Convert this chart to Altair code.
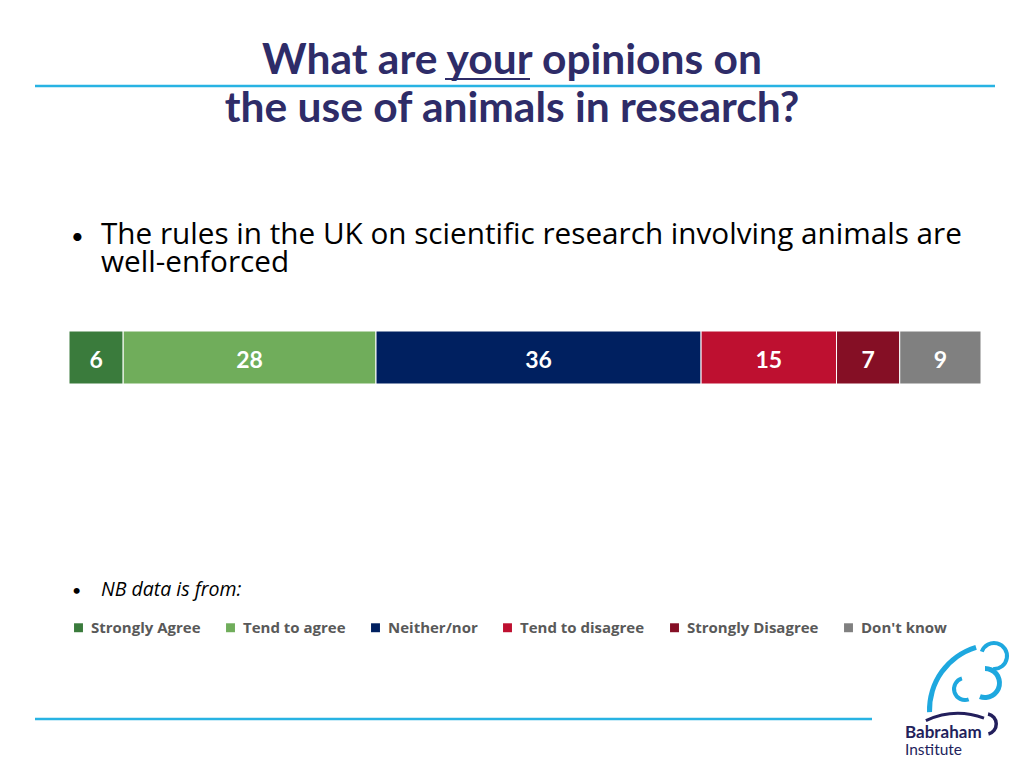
import altair as alt
import pandas as pd

categories = ["Strongly Agree", "Tend to agree", "Neither/nor", "Tend to disagree", "Strongly Disagree", "Don't know"]
values = [6, 28, 36, 15, 7, 9]
colors = ["#3A7B3C", "#70AD5B", "#002060", "#BE1030", "#850F25", "#808080"]

title_lines = ["What are your opinions on", "the use of animals in research?"]
bullet_lines = ["The rules in the UK on scientific research involving animals are", "well-enforced"]
note_text = "NB data is from:"

df = pd.DataFrame({"category": categories, "value": values, "order": list(range(len(categories)))})

W, H = 1008, 752
TITLE_COLOR = "#2E2C68"
LINE_BLUE = "#28B3E3"
LOGO_BLUE = "#1EA8DF"
LOGO_NAVY = "#231F5C"
FONT = "Lato"
BODY = "Open Sans"

xscale = alt.Scale(domain=[0, 101], range=[61, 973], nice=False, zero=False)

stacked = alt.Chart(df).transform_stack(
    stack="value", groupby=[], as_=["x0", "x1"], sort=[alt.SortField("order")]
).transform_calculate(mid="(datum.x0 + datum.x1) / 2")

bars = stacked.mark_bar(stroke="white", strokeWidth=1, orient="horizontal").encode(
    x=alt.X("x0:Q", scale=xscale, axis=None),
    x2="x1:Q",
    y=alt.value(323),
    y2=alt.value(376),
    color=alt.Color(
        "category:N",
        scale=alt.Scale(domain=categories, range=colors),
        sort=categories,
        legend=alt.Legend(
            title=None, orient="none", legendX=63, legendY=612, direction="horizontal", columns=6,
            symbolType="square", symbolSize=80, symbolStrokeWidth=0, labelFont="Open Sans",
            labelFontWeight="bold", labelFontSize=15, labelColor="#595959", columnPadding=22,
            labelOffset=5,
        ),
    ),
)

labels = stacked.mark_text(
    font=FONT, fontWeight="bold", fontSize=23, color="white", baseline="middle"
).encode(
    x=alt.X("mid:Q", scale=xscale, axis=None),
    y=alt.value(353),
    text="value:Q",
)

def txt(text, x, y, size, weight="normal", color="black", align="left", style="normal", font=FONT):
    return alt.Chart(pd.DataFrame({"t": [text]})).mark_text(
        font=font, fontSize=size, fontWeight=weight, color=color, align=align, baseline="alphabetic", fontStyle=style
    ).encode(x=alt.value(x), y=alt.value(y), text="t:N")

def rule(x1, x2, y, color, width):
    return alt.Chart(pd.DataFrame({"a": [0]})).mark_rule(color=color, strokeWidth=width).encode(
        x=alt.value(x1), x2=alt.value(x2), y=alt.value(y)
    )

def arc(cx, cy, r_out, r_in, t0, t1, color):
    return alt.Chart(pd.DataFrame({"a": [0]})).mark_arc(color=color).encode(
        x=alt.value(cx), y=alt.value(cy), radius=alt.value(r_out), radius2=alt.value(r_in),
        theta=alt.value(t0), theta2=alt.value(t1)
    )

layers = [
    rule(27, 987, 78, LINE_BLUE, 2.5),
    txt(title_lines[0], 504, 66, 42.5, "bold", TITLE_COLOR, "center"),
    rule(437, 522, 71, TITLE_COLOR, 2),
    txt(title_lines[1], 504, 114, 42.5, "bold", TITLE_COLOR, "center"),
    txt("•", 63, 236, 22),
    txt(bullet_lines[0], 93, 236, 29.7, font=BODY),
    txt(bullet_lines[1], 93, 264, 29.7, font=BODY),
    txt("•", 64, 588, 16),
    txt(note_text, 93, 588, 19.5, style="italic", font=BODY),
    bars,
    labels,
    rule(27, 864, 711, LINE_BLUE, 2.5),
    # logo
    arc(987, 702, 68, 63, 4.68, 5.99, LOGO_BLUE),
    arc(986, 648, 15, 11, 5.06, 9.5, LOGO_BLUE),
    arc(977, 675, 17, 12, 0.0, 3.5, LOGO_BLUE),
    arc(957, 681, 13, 9, 2.8, 6.0, LOGO_BLUE),
    arc(950, 782, 78, 75, 5.85, 6.63, LOGO_NAVY),
    arc(978, 716, 12, 8.5, 0.2, 2.9, LOGO_NAVY),
    txt("Babraham", 897, 730, 17, "bold", LOGO_NAVY),
    txt("Institute", 897, 747, 15.5, "normal", LOGO_NAVY),
]

chart = alt.layer(*layers).properties(
    width=W, height=H, padding=0,
    autosize=alt.AutoSizeParams(type="fit", contains="padding"),
).configure_view(stroke=None)

chart.save("out.html", embed_options={"renderer": "svg", "actions": False})
